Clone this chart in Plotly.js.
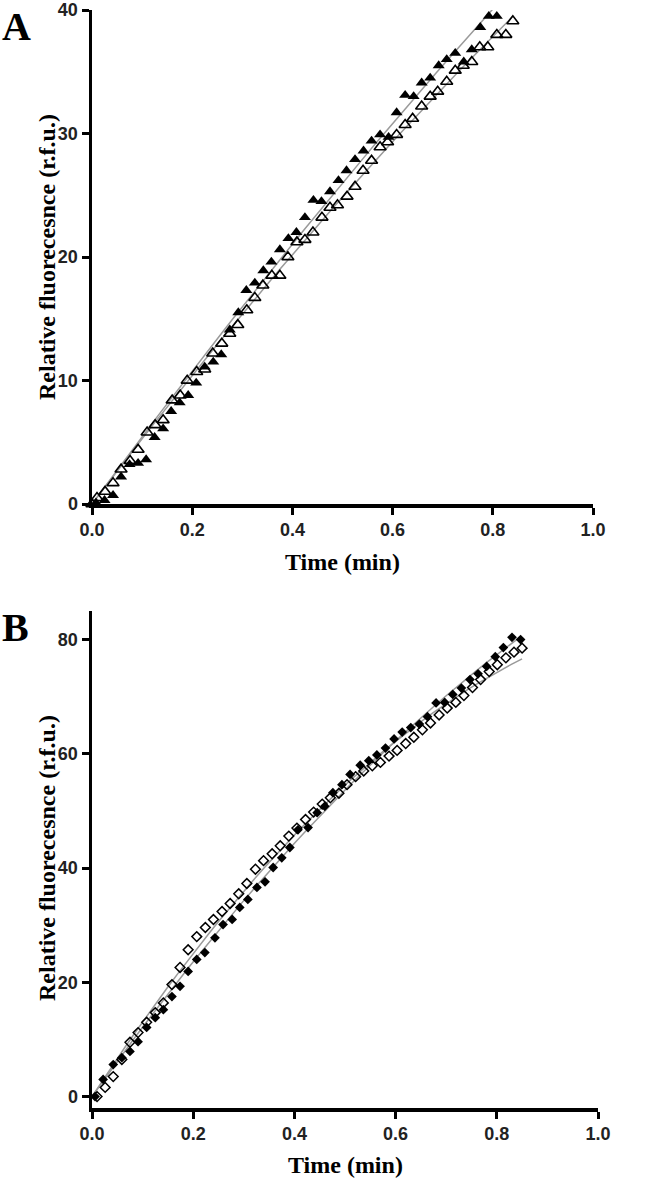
<!DOCTYPE html>
<html>
<head>
<meta charset="utf-8">
<script src="https://cdn.plot.ly/plotly-3.0.1.min.js"></script>
<style>html,body{margin:0;padding:0;background:#fff;}#chart{width:666px;height:1183px;}</style>
</head>
<body>
<div id="chart"></div>
<script>
// ---------- Panel A data (time in min, relative fluorescence r.f.u.) ----------
var timeA_filled = [0.008,0.025,0.042,0.058,0.075,0.092,0.108,0.125,0.142,0.158,0.175,0.192,0.208,0.225,0.242,0.258,0.275,0.292,0.308,0.325,0.342,0.358,0.375,0.392,0.408,0.425,0.442,0.458,0.475,0.492,0.508,0.525,0.542,0.558,0.575,0.592,0.608,0.625,0.642,0.658,0.675,0.692,0.708,0.725,0.742,0.758,0.775,0.792,0.808];
var fluorA_filled = [0.1,0.3,0.7,2.2,3.2,3.3,3.6,5.4,6.1,7.5,8.2,8.8,9.8,11.1,11.5,12.1,14.1,15.5,17.3,17.9,18.9,19.6,20.6,21.5,22.0,23.2,24.6,24.5,25.3,26.2,27.0,27.9,28.6,29.4,29.9,29.7,31.7,33.1,33.0,34.1,34.5,35.5,36.0,36.5,35.8,36.8,38.6,39.5,39.5];
var timeA_open = [0.000,0.010,0.026,0.042,0.058,0.076,0.092,0.110,0.126,0.142,0.160,0.176,0.190,0.209,0.225,0.241,0.259,0.275,0.291,0.309,0.325,0.341,0.359,0.375,0.391,0.409,0.425,0.441,0.459,0.475,0.490,0.509,0.525,0.541,0.558,0.575,0.590,0.608,0.625,0.640,0.658,0.675,0.690,0.708,0.725,0.741,0.758,0.774,0.790,0.808,0.826,0.840];
var fluorA_open = [0.0,0.5,1.0,1.7,2.8,3.5,4.4,5.8,6.4,6.8,8.4,8.8,10.0,10.7,10.9,12.2,13.0,13.8,14.5,15.7,16.7,17.7,18.5,18.5,20.0,21.2,21.4,22.0,23.2,24.0,24.2,24.9,25.7,27.0,27.8,28.9,29.3,29.9,30.7,31.2,32.2,33.0,33.4,34.2,35.1,35.5,35.8,37.0,37.0,38.0,38.0,39.1];

// ---------- Panel B data ----------
var timeB_filled = [0.006,0.022,0.042,0.059,0.075,0.091,0.108,0.125,0.141,0.158,0.174,0.190,0.207,0.223,0.243,0.259,0.277,0.292,0.308,0.326,0.342,0.358,0.375,0.391,0.407,0.427,0.445,0.460,0.476,0.494,0.510,0.530,0.547,0.563,0.580,0.597,0.613,0.630,0.647,0.663,0.680,0.697,0.713,0.730,0.747,0.763,0.780,0.797,0.813,0.830,0.847];
var fluorB_filled = [0.0,3.0,5.6,6.8,7.9,9.6,12.1,13.8,15.2,17.5,19.3,21.9,24.0,25.2,27.8,30.1,31.0,33.1,34.5,36.6,37.6,40.1,41.8,43.6,46.7,47.1,49.7,50.8,53.2,54.6,56.4,58.0,58.8,59.8,61.0,62.6,63.8,64.6,65.2,66.5,68.9,69.0,70.4,71.5,73.0,74.0,75.3,77.0,78.6,80.4,80.0];
var timeB_open = [0.010,0.026,0.042,0.059,0.075,0.091,0.108,0.125,0.141,0.158,0.174,0.190,0.207,0.224,0.240,0.257,0.273,0.290,0.306,0.323,0.339,0.356,0.372,0.389,0.405,0.422,0.438,0.455,0.471,0.488,0.504,0.521,0.537,0.554,0.570,0.587,0.603,0.620,0.636,0.653,0.669,0.686,0.702,0.719,0.735,0.752,0.768,0.785,0.801,0.818,0.834,0.850];
var fluorB_open = [0.0,1.6,3.5,6.5,9.5,11.2,13.0,14.7,16.4,19.6,22.6,25.7,28.0,29.6,31.0,32.4,33.8,35.5,37.3,39.8,41.3,42.5,43.9,45.6,47.0,48.5,49.8,51.2,52.3,53.1,54.6,56.0,57.0,57.9,58.5,59.6,60.6,61.8,62.9,64.2,65.4,66.8,68.0,69.0,70.2,71.6,73.0,74.4,75.6,76.8,77.8,78.5];

// ---------- tick labels / titles ----------
var xTickVals = [0,0.2,0.4,0.6,0.8,1.0];
var xTickText = ['0.0','0.2','0.4','0.6','0.8','1.0'];
var yTickValsA = [0,10,20,30,40];
var yTickValsB = [0,20,40,60,80];
var xTitle = 'Time (min)';
var yTitle = 'Relative fluorecesnce (r.f.u.)';
var panelLabels = ['A','B'];

// least-squares fit y = a*t + b*t^2 (through origin), sampled from t=0 to last time point
function fitCurve(xs, ys){
  var s2=0, s3=0, s4=0, t1=0, t2=0;
  for (var i=0;i<xs.length;i++){
    var x=xs[i], x2=x*x;
    s2+=x2; s3+=x2*x; s4+=x2*x2; t1+=x*ys[i]; t2+=x2*ys[i];
  }
  var det = s2*s4 - s3*s3;
  var a = (t1*s4 - s3*t2)/det;
  var b = (s2*t2 - s3*t1)/det;
  var x1 = Math.max.apply(null, xs), ox=[], oy=[];
  for (var q=0;q<=40;q++){ var xv=x1*q/40; ox.push(xv); oy.push(a*xv + b*xv*xv); }
  return {x:ox, y:oy};
}

var W = 666, H = 1183;
function px(v){ return v/W; }
function py(v){ return 1 - v/H; }

var lineStyle = {color:'#9a9a9a', width:1.5};
var fA1 = fitCurve(timeA_filled, fluorA_filled);
var fA2 = fitCurve(timeA_open, fluorA_open);
var fB1 = fitCurve(timeB_filled, fluorB_filled);
var fB2 = fitCurve(timeB_open, fluorB_open);

var traces = [
  {x:fA1.x, y:fA1.y, mode:'lines', line:lineStyle, xaxis:'x', yaxis:'y', hoverinfo:'skip'},
  {x:fA2.x, y:fA2.y, mode:'lines', line:lineStyle, xaxis:'x', yaxis:'y', hoverinfo:'skip'},
  {x:timeA_open, y:fluorA_open, mode:'markers', cliponaxis:false, xaxis:'x', yaxis:'y',
   marker:{symbol:'triangle-up-open', size:10.5, color:'#000', line:{width:1.6, color:'#000'}}},
  {x:timeA_filled, y:fluorA_filled, mode:'markers', cliponaxis:false, xaxis:'x', yaxis:'y',
   marker:{symbol:'triangle-up', size:10.5, color:'#000', line:{width:0}}},
  {x:fB1.x, y:fB1.y, mode:'lines', line:lineStyle, xaxis:'x2', yaxis:'y2', hoverinfo:'skip'},
  {x:fB2.x, y:fB2.y, mode:'lines', line:lineStyle, xaxis:'x2', yaxis:'y2', hoverinfo:'skip'},
  {x:timeB_open, y:fluorB_open, mode:'markers', cliponaxis:false, xaxis:'x2', yaxis:'y2',
   marker:{symbol:'diamond-open', size:7.5, color:'#000', line:{width:1.5, color:'#000'}}},
  {x:timeB_filled, y:fluorB_filled, mode:'markers', cliponaxis:false, xaxis:'x2', yaxis:'y2',
   marker:{symbol:'diamond', size:7.5, color:'#000', line:{width:0}}}
];

var tickFont = {family:'Liberation Sans, Arial, sans-serif', size:18, color:'#222', weight:'bold'};
var titleFont = {family:'Liberation Serif, Times New Roman, serif', size:24, color:'#000', weight:'bold'};
function axisBase(){
  return {showline:true, linecolor:'#000', linewidth:3.5, ticks:'outside', ticklen:7, tickwidth:3,
          tickcolor:'#000', showgrid:false, zeroline:false, tickfont:tickFont, automargin:false, fixedrange:true};
}

var xa = axisBase(); xa.domain=[px(92), px(593)]; xa.range=[0,1]; xa.anchor='y';
xa.tickvals=xTickVals; xa.ticktext=xTickText;
var ya = axisBase(); ya.domain=[py(504), py(10)]; ya.range=[0,40]; ya.anchor='x';
ya.tickvals=yTickValsA;
var xb = axisBase(); xb.domain=[px(92), px(598)]; xb.range=[0,1]; xb.anchor='y2';
xb.tickvals=xTickVals; xb.ticktext=xTickText;
var yb = axisBase(); yb.domain=[py(1108), py(611)]; yb.range=[-2,85]; yb.anchor='x2';
yb.tickvals=yTickValsB;

var letterFont = {family:'Liberation Serif, Times New Roman, serif', size:40, color:'#000', weight:'bold'};
function ann(text, x, y, font, extra){
  var a = {text:text, xref:'paper', yref:'paper', x:px(x), y:py(y), showarrow:false, font:font};
  for (var k in extra) a[k]=extra[k];
  return a;
}

var layout = {
  width:W, height:H, margin:{l:0,r:0,t:0,b:0}, showlegend:false,
  paper_bgcolor:'#fff', plot_bgcolor:'#fff',
  xaxis:xa, yaxis:ya, xaxis2:xb, yaxis2:yb,
  annotations:[
    ann(panelLabels[0], 0, 2, letterFont, {xanchor:'left', yanchor:'top'}),
    ann(panelLabels[1], 0, 603, letterFont, {xanchor:'left', yanchor:'top'}),
    ann(xTitle, 342, 562, titleFont, {xanchor:'center', yanchor:'middle'}),
    ann(xTitle, 345, 1165, titleFont, {xanchor:'center', yanchor:'middle'}),
    ann(yTitle, 47, 257, titleFont, {xanchor:'center', yanchor:'middle', textangle:-90}),
    ann(yTitle, 47, 858, titleFont, {xanchor:'center', yanchor:'middle', textangle:-90})
  ]
};

Plotly.newPlot('chart', traces, layout, {staticPlot:true, displayModeBar:false});
</script>
</body>
</html>
